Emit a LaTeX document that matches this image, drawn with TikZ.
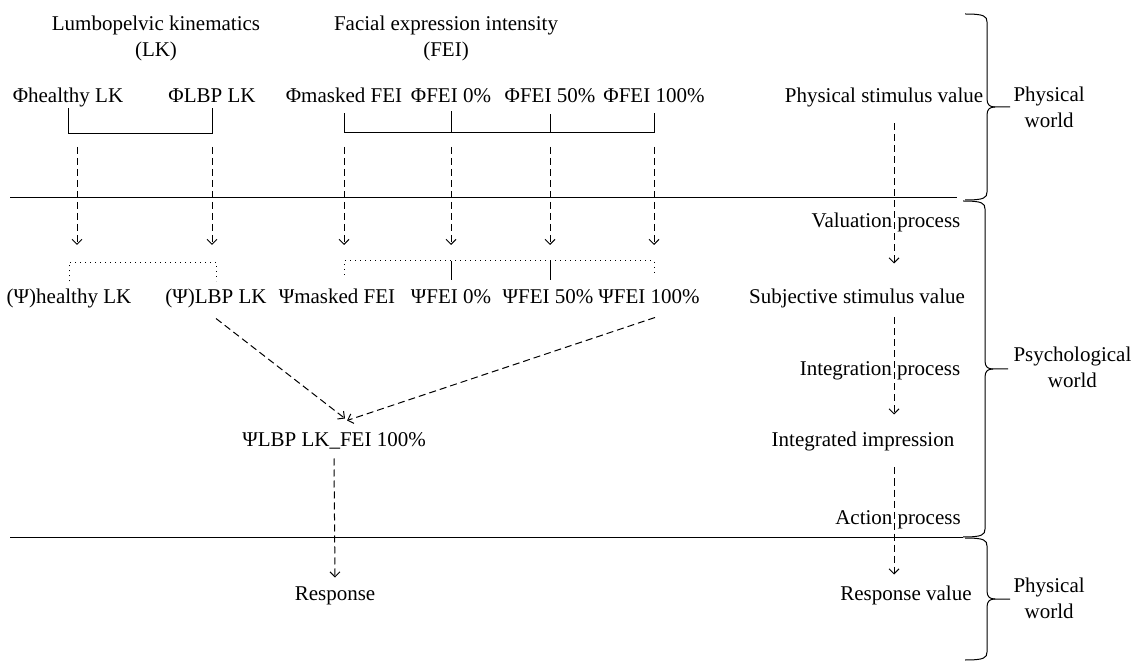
\documentclass[tikz,border=0pt]{standalone}
\usepackage{fontspec}
\setmainfont{Liberation Serif}
\usetikzlibrary{arrows.meta}

\tikzset{
  txt/.style={font=\fontsize{10.5}{13}\selectfont, inner sep=0pt,
    text height=7.5pt, text depth=2.5pt, anchor=base},
  title/.style={font=\fontsize{10.5}{13}\selectfont, inner sep=0pt,
    align=center, anchor=north},
  side/.style={font=\fontsize{10.5}{13}\selectfont, inner sep=0pt,
    align=center, anchor=north west},
  flow/.style={dash pattern=on 3.5pt off 2pt,
    -{Straight Barb[length=2.5pt,width=5pt]}},
}

% brace on the right: x, top, bottom
\newcommand{\worldbrace}[3]{%
  \pgfmathsetmacro{\bmid}{(#2+#3)/2}
  \draw (#1,#2) .. controls (#1+19,#2) and (#1+22,#2+2) .. (#1+22,#2+8)
    -- (#1+22,\bmid-8) .. controls (#1+22,\bmid-2) and (#1+25,\bmid) .. (#1+30,\bmid)
    -- (#1+45,\bmid);
  \draw (#1+30,\bmid) .. controls (#1+25,\bmid) and (#1+22,\bmid+2) .. (#1+22,\bmid+8)
    -- (#1+22,#3-8) .. controls (#1+22,#3-2) and (#1+19,#3) .. (#1,#3);
}

\begin{document}
\begin{tikzpicture}[x=0.5pt, y=-0.5pt, line width=0.5pt]
  \useasboundingbox (0,0) rectangle (1135,662);

  % group titles
  \node[title] (lk) at (156,15) {Lumbopelvic kinematics\\(LK)};
  \node[title] (fei) at (446,15) {Facial expression intensity\\(FEI)};

  % physical stimuli
  \node[txt] (pH) at (68,103) {Φhealthy LK};
  \node[txt] (pL) at (212,103) {ΦLBP LK};
  \node[txt] (pM) at (344,103) {Φmasked FEI};
  \node[txt] (p0) at (451,103) {ΦFEI 0\%};
  \node[txt] (p50) at (550,103) {ΦFEI 50\%};
  \node[txt] (p100) at (654,103) {ΦFEI 100\%};
  \node[txt] (phys) at (884,103) {Physical stimulus value};

  % subjective stimuli
  \node[txt] (sH) at (69,304) {(Ψ)healthy LK};
  \node[txt] (sL) at (216,304) {(Ψ)LBP LK};
  \node[txt] (sM) at (337,304) {Ψmasked FEI};
  \node[txt] (s0) at (451,304) {ΨFEI 0\%};
  \node[txt] (s50) at (548,304) {ΨFEI 50\%};
  \node[txt] (s100) at (649,304) {ΨFEI 100\%};
  \node[txt] (subj) at (857,304) {Subjective stimulus value};

  % processes and outcomes
  \node[txt] (valu) at (886,228) {Valuation process};
  \node[txt] (integ) at (880,376) {Integration process};
  \node[txt] (comb) at (334,447) {ΨLBP LK\_FEI 100\%};
  \node[txt] (integd) at (863,447) {Integrated impression};
  \node[txt] (act) at (898,524) {Action process};
  \node[txt] (resp) at (335,600) {Response};
  \node[txt] (resv) at (906,600) {Response value};

  \coordinate (fb) at (0,133);
  \coordinate (db) at (0,261);
  \coordinate (at) at (0,147);
  \coordinate (ab) at (0,245);
  \coordinate (rc) at (894,0);

  % brackets, physical row
  \draw (pH.south) -- ++(0,25) -| (pL.south);
  \draw ([yshift=-2.5pt]pM.south) |- (fb -| p100) -- ([yshift=-2.5pt]p100.south);
  \draw ([yshift=-1.5pt]p0.south) -- (p0 |- fb);
  \draw ([yshift=-3pt]p50.south) -- (p50 |- fb);

  % valuation arrows
  \draw[flow] ([xshift=4.5pt]pH |- at) -- ([xshift=4.5pt]pH |- ab);
  \foreach \n in {pL,pM,p0,p50,p100}
    \draw[flow] (\n |- at) -- (\n |- ab);

  % brackets, subjective row
  \draw[dotted] ([yshift=3.5pt]sH.north) -- ++(0,-19) -| ([yshift=3.5pt]sL.north);
  \draw[dotted] (pM |- 0,275) |- (db -| p100) -- (p100 |- 0,275);
  \draw (p0 |- db) -- (p0 |- 0,280);
  \draw (p50 |- db) -- (p50 |- 0,280);

  % integration and action
  \draw[flow] ([yshift=-4.5pt]sL.south) -- ([xshift=5.5pt,yshift=6.5pt]comb.north);
  \draw[flow] ([xshift=3pt,yshift=-4pt]s100.south) -- ([xshift=6.5pt,yshift=5.5pt]comb.north);
  \draw[flow] ([yshift=-3pt]comb.south) -- ([yshift=3.5pt]resp.north);

  % right column
  \draw[flow] ([yshift=-7.5pt]rc |- phys.south) -- ([yshift=12.5pt]rc |- subj.north);
  \draw[flow] ([yshift=-4pt]rc |- subj.south) -- ([yshift=8.5pt]rc |- integd.north);
  \draw[flow] ([yshift=-7.5pt]rc |- integd.south) -- ([yshift=5pt]rc |- resv.north);

  % world borders
  \draw (10,198) -- (957,198);
  \draw (10,537) -- (963,537);
  \worldbrace{965}{14}{200}
  \worldbrace{963}{201}{537}
  \worldbrace{965}{538}{660}

  \node[side] (w1) at (1013,86) {Physical\\world};
  \node[side] (w2) at (1013,346) {Psychological\\world};
  \node[side] (w3) at (1013,577) {Physical\\world};
\end{tikzpicture}
\end{document}
